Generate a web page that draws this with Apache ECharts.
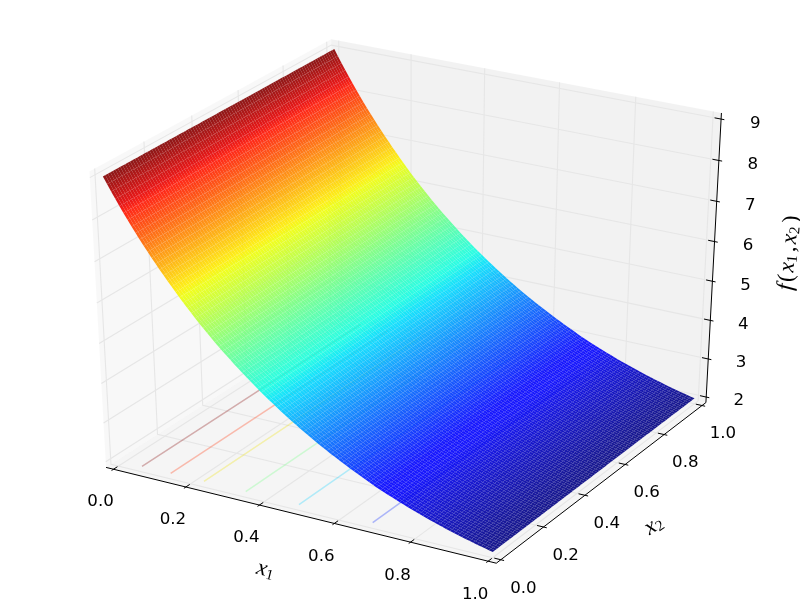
<!DOCTYPE html>
<html><head><meta charset="utf-8">
<style>html,body{margin:0;padding:0;background:#fff}#c{width:800px;height:600px}</style>
<script src="https://cdn.jsdelivr.net/npm/echarts@6/dist/echarts.min.js"></script>
</head><body><div id="c"></div>
<script>
// ---- data ----
const x1Grid = [0,.01,.02,.03,.04,.05,.06,.07,.08,.09,.1,.11,.12,.13,.14,.15,.16,.17,.18,.19,.2,.21,.22,.23,.24,.25,.26,.27,.28,.29,.3,.31,.32,.33,.34,.35,.36,.37,.38,.39,.4,.41,.42,.43,.44,.45,.46,.47,.48,.49,.5,.51,.52,.53,.54,.55,.56,.57,.58,.59,.6,.61,.62,.63,.64,.65,.66,.67,.68,.69,.7,.71,.72,.73,.74,.75,.76,.77,.78,.79,.8,.81,.82,.83,.84,.85,.86,.87,.88,.89,.9,.91,.92,.93,.94,.95,.96,.97,.98,.99,1];
const fProfile = [9,8.84,8.683,8.53,8.38,8.233,8.09,7.95,7.814,7.681,7.551,7.425,7.301,7.179,7.059,6.941,6.825,6.711,6.599,6.489,6.381,6.275,6.171,6.069,5.969,5.871,5.775,5.681,5.589,5.499,5.411,5.325,5.24,5.156,5.074,4.993,4.914,4.836,4.759,4.684,4.61,4.538,4.467,4.398,4.33,4.262,4.196,4.131,4.067,4.004,3.942,3.881,3.822,3.763,3.706,3.65,3.595,3.541,3.488,3.436,3.385,3.335,3.286,3.237,3.189,3.142,3.096,3.05,3.003,2.958,2.917,2.876,2.836,2.797,2.759,2.721,2.684,2.648,2.612,2.577,2.543,2.51,2.477,2.445,2.413,2.383,2.353,2.324,2.295,2.268,2.24,2.213,2.188,2.162,2.137,2.112,2.089,2.066,2.043,2.021,2];
const x2Grid = x1Grid.slice();
const x1Ticks = [0,0.2,0.4,0.6,0.8,1];
const x2Ticks = [0,0.2,0.4,0.6,0.8,1];
const fTicks = [2,3,4,5,6,7,8,9];
const contourLevels = [8,7,6,5,4,3];
const contourX1 = [.0664,.1456,.237,.3505,.4937,.689];
const contourColors = ['#800000','#ff3000','#f0e000','#70ff80','#10d0ff','#0020ff'];
const fMin = 2, fMax = 9;

// ---- view: elevation 30, azimuth -60, distance 10 ----
const U = [0.8660254,0.5,0], V = [-0.25,0.4330127,0.8660254], N = [0.4330127,-0.75,0.5];
const dot = (a,b)=>a[0]*b[0]+a[1]*b[1]+a[2]*b[2];
function proj(a,b,c){ // a,b,c in unit cube
  const p=[a-.5,b-.5,c-.5], d=10-dot(N,p);
  return [dot(U,p)/d, dot(V,p)/d];
}
const nz = f => (f-fMin)/(fMax-fMin);
const E = 1/48, T = 1/12, LBL = 0.7/12;
function jet(t){
  const seg=(pts)=>{ t=Math.max(0,Math.min(1,t)); for(let i=1;i<pts.length;i++){ if(t<=pts[i][0]){const[a,b]=[pts[i-1],pts[i]];return b[0]===a[0]?b[1]:a[1]+(b[1]-a[1])*(t-a[0])/(b[0]-a[0]);}} return pts[pts.length-1][1]; };
  return [seg([[0,0],[.35,0],[.66,1],[.89,1],[1,.5]]),seg([[0,0],[.125,0],[.375,1],[.64,1],[.91,0],[1,0]]),seg([[0,.5],[.11,1],[.34,1],[.65,0],[1,0]])].map(v=>Math.round(v*255));
}
const rgba=(c)=>`rgba(${c[0]},${c[1]},${c[2]},0.9)`;
// ---- geometry lists built from the arrays ----
const lo=-E, hi=1+E;
const panes = [
  {c:'rgba(242,242,242,0.5)',p:[[lo,lo,lo],[lo,hi,lo],[lo,hi,hi],[lo,lo,hi]]},
  {c:'rgba(230,230,230,0.5)',p:[[lo,hi,lo],[hi,hi,lo],[hi,hi,hi],[lo,hi,hi]]},
  {c:'rgba(236,236,236,0.5)',p:[[lo,lo,lo],[hi,lo,lo],[hi,hi,lo],[lo,hi,lo]]}
];
const gridLines=[];
x1Ticks.forEach(t=>gridLines.push([[t,lo,lo],[t,hi,lo],[t,hi,hi]]));
x2Ticks.forEach(t=>gridLines.push([[hi,t,lo],[lo,t,lo],[lo,t,hi]]));
fTicks.forEach(f=>{const z=nz(f);gridLines.push([[lo,lo,z],[lo,hi,z],[hi,hi,z]]);});
const blackLines=[[[lo,lo,lo],[hi,lo,lo]],[[hi,lo,lo],[hi,hi,lo]],[[hi,hi,lo],[hi,hi,hi]]];
x1Ticks.forEach(t=>blackLines.push([[t,lo-.1*T,lo],[t,lo+.2*T,lo]]));
x2Ticks.forEach(t=>blackLines.push([[hi+.1*T,t,lo],[hi-.2*T,t,lo]]));
fTicks.forEach(f=>{const z=nz(f);blackLines.push([[hi+.1*T,hi,z],[hi-.2*T,hi,z]]);});
const labels=[];
x1Ticks.forEach(t=>labels.push({t:t.toFixed(1),p:[t,lo-LBL,lo-LBL]}));
x2Ticks.forEach(t=>labels.push({t:t.toFixed(1),p:[hi+LBL,t,lo-LBL]}));
fTicks.forEach(f=>labels.push({t:String(f),p:[hi+LBL,hi+LBL,nz(f)]}));
const quads=[];
for(let i=0;i<x1Grid.length-1;i++)for(let j=0;j<x2Grid.length-1;j++)quads.push([0,0,i,j]);

const mathFont='"Liberation Serif"';
const rich={i:{fontFamily:mathFont,fontStyle:'italic',fontSize:23,color:'#333'},
            s:{fontFamily:mathFont,fontSize:15,color:'#333',padding:[9,1,0,0]},
            r:{fontFamily:mathFont,fontSize:23,color:'#333',padding:[0,2,0,2]}};
const titles=[
  {t:'{i|x}{s|1}',x:266,y:570,rot:-14},
  {t:'{i|x}{s|2}',x:654,y:525,rot:33},
  {t:'{i|f}{r|(}{i|x}{s|1}{r|,}{i|x}{s|2}{r|)}',x:789,y:252,rot:85}
];

const chart=echarts.init(document.getElementById('c'),null,{renderer:'canvas'});
const pts=(api,list)=>list.map(q=>api.coord(proj(q[0],q[1],q[2])));
const common={type:'custom',silent:true,animation:false,clip:false,progressive:0,encode:{x:0,y:1}};
chart.setOption({
  animation:false,
  backgroundColor:'#fff',
  grid:{left:0,right:0,top:0,bottom:0},
  xAxis:{type:'value',min:-0.095,max:0.09,show:false,scale:true},
  yAxis:{type:'value',min:-0.095,max:0.09,show:false,scale:true},
  series:[
    {...common,z:1,data:panes.map(()=>[0,0]),renderItem:(p,api)=>{const o=panes[p.dataIndex];
      return {type:'polygon',shape:{points:pts(api,o.p)},style:{fill:o.c,stroke:null}};}},
    {...common,z:2,data:gridLines.map(()=>[0,0]),renderItem:(p,api)=>({type:'polyline',shape:{points:pts(api,gridLines[p.dataIndex])},style:{fill:null,stroke:'#e6e6e6',lineWidth:1.1}})},
    {...common,z:3,data:blackLines.map(()=>[0,0]),renderItem:(p,api)=>({type:'polyline',shape:{points:pts(api,blackLines[p.dataIndex])},style:{fill:null,stroke:'#000',lineWidth:1}})},
    {...common,z:4,data:contourLevels.map(()=>[0,0]),renderItem:(p,api)=>{const x=contourX1[p.dataIndex];
      return {type:'polyline',shape:{points:pts(api,[[x,0,0],[x,1,0]])},style:{fill:null,stroke:contourColors[p.dataIndex],opacity:.3,lineWidth:1.5}};}},
    {...common,z:5,data:quads,renderItem:(p,api)=>{
      const q=quads[p.dataIndex],i=q[2],j=q[3];
      const a=x1Grid[i],b=x1Grid[i+1],c=x2Grid[j],d=x2Grid[j+1];
      const za=nz(fProfile[i]),zb=nz(fProfile[i+1]);
      const P=pts(api,[[a,c,za],[b,c,zb],[b,d,zb],[a,d,za]]);
      // colour runs across the row: from the a-edge to its perpendicular foot on the b-edge
      const ex=P[3][0]-P[0][0],ey=P[3][1]-P[0][1],L=ex*ex+ey*ey;
      const dx=P[1][0]-P[0][0],dy=P[1][1]-P[0][1],k=(dx*ex+dy*ey)/L;
      const gx=dx-k*ex,gy=dy-k*ey;
      const fill=new echarts.graphic.LinearGradient(P[0][0],P[0][1],P[0][0]+gx,P[0][1]+gy,
        [{offset:0,color:rgba(jet(za))},{offset:1,color:rgba(jet(zb))}],true);
      return {type:'polygon',shape:{points:P},style:{fill:fill,stroke:null}};
    }},
    {...common,z:6,data:labels.map(()=>[0,0]),renderItem:(p,api)=>{const l=labels[p.dataIndex];const c=api.coord(proj(l.p[0],l.p[1],l.p[2]));
      return {type:'text',x:c[0],y:c[1]+7.5,style:{text:l.t,fill:'#000',font:'16.67px "DejaVu Sans"',align:'center',verticalAlign:'middle'}};}},
    {...common,z:7,data:titles.map(()=>[0,0]),renderItem:(p)=>{const l=titles[p.dataIndex];
      return {type:'text',x:l.x,y:l.y,rotation:l.rot*Math.PI/180,style:{text:l.t,rich:rich,align:'center',verticalAlign:'middle'}};}}
  ]
});
</script></body></html>
